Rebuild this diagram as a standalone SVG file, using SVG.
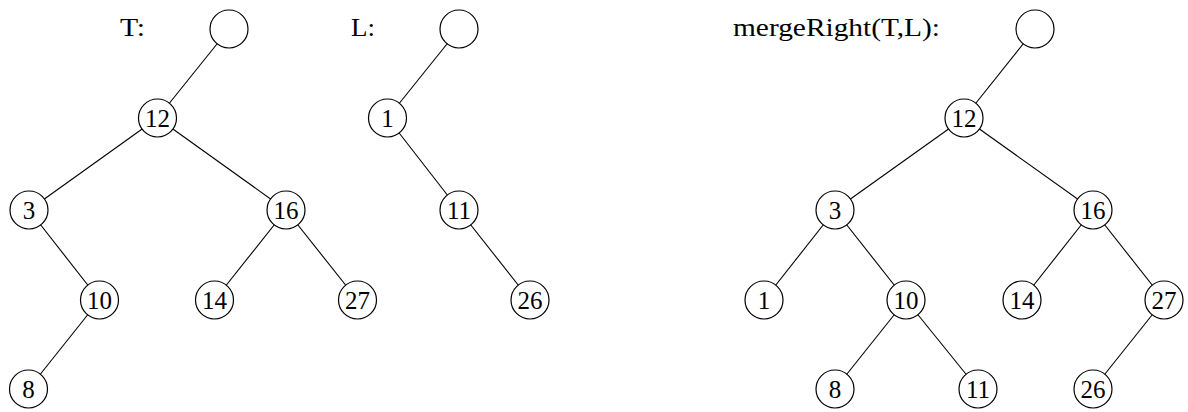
<svg xmlns="http://www.w3.org/2000/svg" width="1188" height="412" viewBox="0 0 1188 412">
<style>
.e{stroke:#000;stroke-width:1.1;fill:none}
.n circle{fill:#fff;stroke:#000;stroke-width:1.2}
.n text{font-family:"Liberation Serif","DejaVu Serif",serif;font-size:25px;text-anchor:middle;fill:#000}
.lbl{font-family:"Liberation Serif","DejaVu Serif",serif;font-size:25px;fill:#000}
</style>
<rect width="1188" height="412" fill="#fff"/>
<text class="lbl" x="120" y="36" textLength="25" lengthAdjust="spacingAndGlyphs">T:</text>
<text class="lbl" x="351" y="36" textLength="24" lengthAdjust="spacingAndGlyphs">L:</text>
<text class="lbl" x="733" y="36" textLength="207" lengthAdjust="spacingAndGlyphs">mergeRight(T,L):</text>
<g id="connectors">
<line class="e" x1="229" y1="29" x2="157.5" y2="118"/>
<line class="e" x1="157.5" y1="118" x2="29" y2="210"/>
<line class="e" x1="157.5" y1="118" x2="286" y2="210"/>
<line class="e" x1="29" y1="210" x2="99.5" y2="300"/>
<line class="e" x1="99.5" y1="300" x2="28.5" y2="389"/>
<line class="e" x1="286" y1="210" x2="214.5" y2="300"/>
<line class="e" x1="286" y1="210" x2="357.5" y2="300"/>
<line class="e" x1="459" y1="29" x2="387.5" y2="118"/>
<line class="e" x1="387.5" y1="118" x2="459" y2="210"/>
<line class="e" x1="459" y1="210" x2="530" y2="300"/>
<line class="e" x1="1035" y1="29" x2="964" y2="118"/>
<line class="e" x1="964" y1="118" x2="835" y2="210"/>
<line class="e" x1="964" y1="118" x2="1093" y2="210"/>
<line class="e" x1="835" y1="210" x2="764" y2="300"/>
<line class="e" x1="835" y1="210" x2="906" y2="300"/>
<line class="e" x1="906" y1="300" x2="835" y2="389"/>
<line class="e" x1="906" y1="300" x2="978" y2="389"/>
<line class="e" x1="1093" y1="210" x2="1022" y2="300"/>
<line class="e" x1="1093" y1="210" x2="1164" y2="300"/>
<line class="e" x1="1164" y1="300" x2="1093" y2="389"/>
</g>
<g id="T_root" class="n"><circle cx="229" cy="29" r="19"/></g>
<g id="T_12" class="n"><circle cx="157.5" cy="118" r="19"/><text x="157.5" y="127">12</text></g>
<g id="T_3" class="n"><circle cx="29" cy="210" r="19"/><text x="29" y="219">3</text></g>
<g id="T_16" class="n"><circle cx="286" cy="210" r="19"/><text x="286" y="219">16</text></g>
<g id="T_10" class="n"><circle cx="99.5" cy="300" r="19"/><text x="99.5" y="309">10</text></g>
<g id="T_14" class="n"><circle cx="214.5" cy="300" r="19"/><text x="214.5" y="309">14</text></g>
<g id="T_27" class="n"><circle cx="357.5" cy="300" r="19"/><text x="357.5" y="309">27</text></g>
<g id="T_8" class="n"><circle cx="28.5" cy="389" r="19"/><text x="28.5" y="398">8</text></g>
<g id="L_root" class="n"><circle cx="459" cy="29" r="19"/></g>
<g id="L_1" class="n"><circle cx="387.5" cy="118" r="19"/><text x="387.5" y="127">1</text></g>
<g id="L_11" class="n"><circle cx="459" cy="210" r="19"/><text x="459" y="219">11</text></g>
<g id="L_26" class="n"><circle cx="530" cy="300" r="19"/><text x="530" y="309">26</text></g>
<g id="M_root" class="n"><circle cx="1035" cy="29" r="19"/></g>
<g id="M_12" class="n"><circle cx="964" cy="118" r="19"/><text x="964" y="127">12</text></g>
<g id="M_3" class="n"><circle cx="835" cy="210" r="19"/><text x="835" y="219">3</text></g>
<g id="M_16" class="n"><circle cx="1093" cy="210" r="19"/><text x="1093" y="219">16</text></g>
<g id="M_1" class="n"><circle cx="764" cy="300" r="19"/><text x="764" y="309">1</text></g>
<g id="M_10" class="n"><circle cx="906" cy="300" r="19"/><text x="906" y="309">10</text></g>
<g id="M_14" class="n"><circle cx="1022" cy="300" r="19"/><text x="1022" y="309">14</text></g>
<g id="M_27" class="n"><circle cx="1164" cy="300" r="19"/><text x="1164" y="309">27</text></g>
<g id="M_8" class="n"><circle cx="835" cy="389" r="19"/><text x="835" y="398">8</text></g>
<g id="M_11" class="n"><circle cx="978" cy="389" r="19"/><text x="978" y="398">11</text></g>
<g id="M_26" class="n"><circle cx="1093" cy="389" r="19"/><text x="1093" y="398">26</text></g>
</svg>
